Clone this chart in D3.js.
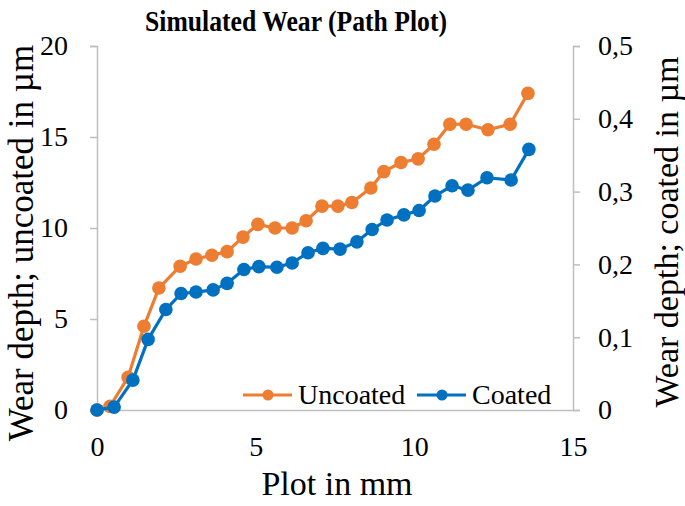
<!DOCTYPE html>
<html>
<head>
<meta charset="utf-8">
<script src="https://cdn.jsdelivr.net/npm/d3@7"></script>
<style>
  body { margin: 0; background: #fff; }
  svg text { font-family: "Liberation Serif", "Times New Roman", serif; fill: #000; }
</style>
</head>
<body>
<div id="chart"></div>
<script>
// plot position (mm) and wear depth
const plotUncoated = [0, 0.41, 0.98, 1.48, 1.95, 2.62, 3.12, 3.62, 4.10, 4.60, 5.07, 5.61, 6.15, 6.59, 7.09, 7.59, 8.03, 8.63, 9.04, 9.58, 10.12, 10.62, 11.12, 11.63, 12.32, 13.02, 13.58];
const wearUncoated = [0, 0.2, 1.8, 4.6, 6.7, 7.9, 8.3, 8.5, 8.7, 9.5, 10.2, 10.0, 10.0, 10.4, 11.2, 11.2, 11.4, 12.2, 13.1, 13.6, 13.8, 14.6, 15.7, 15.7, 15.4, 15.7, 17.4];

const plotCoated = [0, 0.54, 1.13, 1.61, 2.17, 2.65, 3.12, 3.66, 4.10, 4.63, 5.10, 5.67, 6.15, 6.65, 7.12, 7.66, 8.19, 8.67, 9.14, 9.67, 10.15, 10.65, 11.19, 11.69, 12.29, 13.05, 13.61];
const wearCoated = [0, 0.004, 0.041, 0.097, 0.138, 0.160, 0.162, 0.165, 0.174, 0.193, 0.197, 0.196, 0.202, 0.216, 0.222, 0.221, 0.231, 0.248, 0.261, 0.268, 0.274, 0.294, 0.308, 0.302, 0.319, 0.316, 0.358];

const xTicks = [0, 5, 10, 15];
const yLeftTicks = [0, 5, 10, 15, 20];
const yRightTicks = [0, 0.1, 0.2, 0.3, 0.4, 0.5];

const seriesNames = ['Uncoated', 'Coated'];

const width = 685;
const height = 506;
const orange = '#ED7D31';
const blue = '#0070C0';
const axisColor = '#BFBFBF';

const svg = d3.select('#chart')
	.append('svg')
	.attr('width', width)
	.attr('height', height);

const x = d3.scaleLinear().domain([0, 15]).range([97, 573]);
const yLeft = d3.scaleLinear().domain([0, 20]).range([410, 46]);
const yRight = d3.scaleLinear().domain([0, 0.5]).range([410, 46]);

// axes
const leftAxis = svg.append('g')
	.attr('transform', 'translate(97,0)')
	.call(d3.axisLeft(yLeft).tickValues(yLeftTicks).tickSizeOuter(0).tickSize(7).tickPadding(22));

const rightAxis = svg.append('g')
	.attr('transform', 'translate(573,0)')
	.call(d3.axisRight(yRight).tickValues(yRightTicks).tickSizeOuter(0).tickSize(7).tickPadding(18)
		.tickFormat((d) => (d === 0 ? '0' : d.toFixed(1).replace('.', ','))));

const bottomAxis = svg.append('g')
	.attr('transform', 'translate(0,410)')
	.call(d3.axisBottom(x).tickValues(xTicks).tickSize(0).tickSizeOuter(0).tickPadding(26));

[leftAxis, rightAxis, bottomAxis].forEach((g) => {
	g.attr('font-family', '"Liberation Serif", serif');
	g.selectAll('.domain').attr('stroke', axisColor).attr('stroke-width', 1.5);
	g.selectAll('.tick line').attr('stroke', axisColor).attr('stroke-width', 1.5);
	g.selectAll('.tick text').style('font-size', '28px').style('font-family', '"Liberation Serif", serif').attr('fill', '#000');
});

// series
const line = d3.line().x((d) => x(d[0]));

function drawSeries(xs, ys, yScale, color) {
	const pts = xs.map((v, i) => [v, ys[i]]);
	svg.append('path')
		.datum(pts)
		.attr('fill', 'none')
		.attr('stroke', color)
		.attr('stroke-width', 3.2)
		.attr('stroke-linejoin', 'round')
		.attr('d', line.y((d) => yScale(d[1])));
	svg.append('g')
		.selectAll('circle')
		.data(pts)
		.enter()
		.append('circle')
		.attr('cx', (d) => x(d[0]))
		.attr('cy', (d) => yScale(d[1]))
		.attr('r', 6.8)
		.attr('fill', color);
}

drawSeries(plotUncoated, wearUncoated, yLeft, orange);
drawSeries(plotCoated, wearCoated, yRight, blue);

// legend
const legend = svg.append('g');
const legendItems = [
	{ name: seriesNames[0], color: orange, x0: 243 },
	{ name: seriesNames[1], color: blue, x0: 417 }
];
legendItems.forEach((it) => {
	legend.append('line')
		.attr('x1', it.x0).attr('x2', it.x0 + 49)
		.attr('y1', 395).attr('y2', 395)
		.attr('stroke', it.color).attr('stroke-width', 3.2);
	legend.append('circle')
		.attr('cx', it.x0 + 25).attr('cy', 395).attr('r', 5.5)
		.attr('fill', it.color);
	legend.append('text')
		.attr('x', it.x0 + 55).attr('y', 404)
		.style('font-size', '28px')
		.text(it.name);
});

// titles
svg.append('text')
	.attr('x', 296).attr('y', 31)
	.attr('text-anchor', 'middle')
	.attr('textLength', 302)
	.attr('lengthAdjust', 'spacingAndGlyphs')
	.style('font-size', '29px')
	.style('font-weight', 'bold')
	.text('Simulated Wear (Path Plot)');

svg.append('text')
	.attr('x', 337).attr('y', 495)
	.attr('text-anchor', 'middle')
	.style('font-size', '34px')
	.text('Plot in mm');

svg.append('text')
	.attr('transform', 'translate(33,243) rotate(-90)')
	.attr('text-anchor', 'middle')
	.style('font-size', '35px')
	.text('Wear depth; uncoated in µm');

svg.append('text')
	.attr('transform', 'translate(678,232) rotate(-90)')
	.attr('text-anchor', 'middle')
	.style('font-size', '34px')
	.text('Wear depth; coated in µm');
</script>
</body>
</html>
